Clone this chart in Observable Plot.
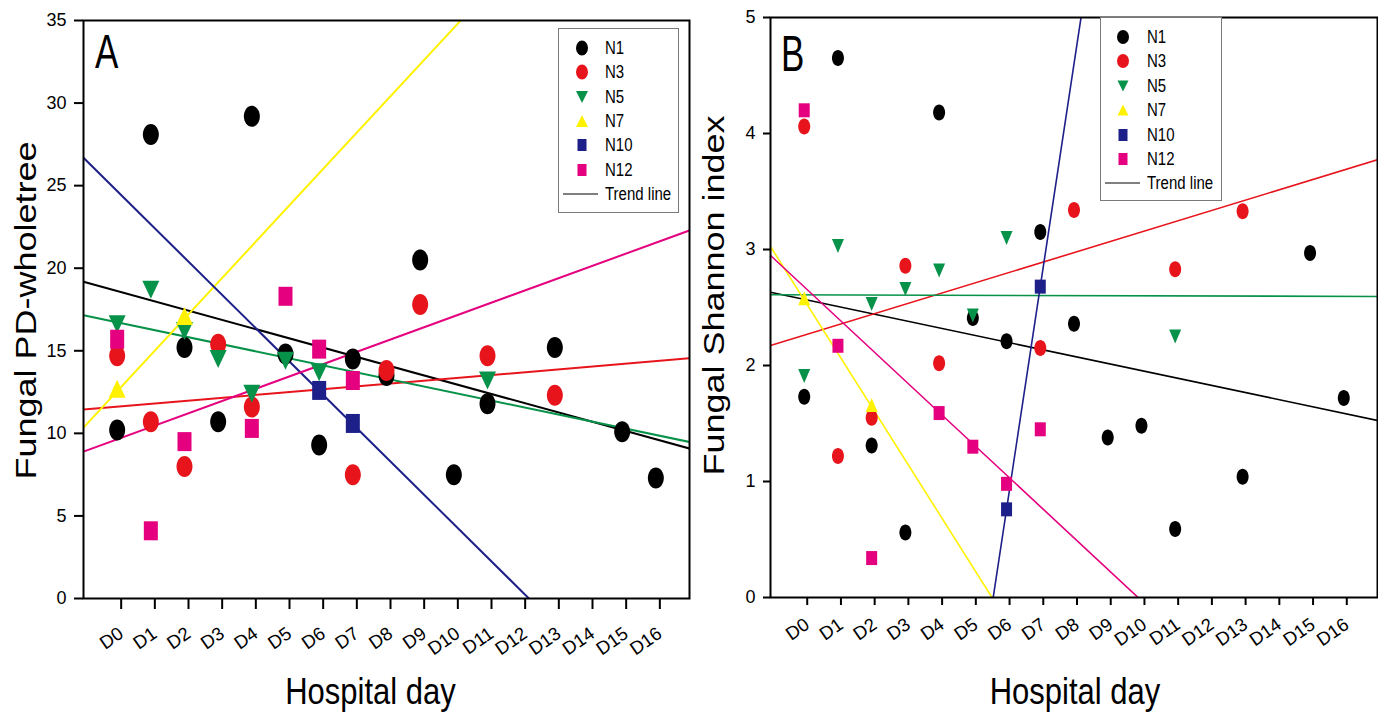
<!DOCTYPE html>
<html>
<head>
<meta charset="utf-8">
<script src="https://cdn.jsdelivr.net/npm/d3@7"></script>
<script src="https://cdn.jsdelivr.net/npm/@observablehq/plot@0.6"></script>
<style>
  html, body { margin: 0; padding: 0; background: #fff; }
  #wrap { position: relative; width: 1378px; height: 715px; overflow: hidden;
          font-family: "Liberation Sans", Arial, sans-serif; color: #000; }
  .pane { position: absolute; top: 0; }
  .legend { position: absolute; border: 1px solid #7a7a7a; background: #fff; box-sizing: border-box; }
  .row { position: absolute; left: 0; width: 100%; height: 24px; }
  .row svg { position: absolute; left: 0; top: 0; }
  .row span { position: absolute; left: 46px; top: 0; line-height: 24px; font-size: 15px;
              transform: scaleY(1.2); transform-origin: left center; white-space: nowrap; }
  .letter { position: absolute; font-size: 35px; line-height: 35px; transform-origin: left top; }
</style>
</head>
<body>
<div id="wrap"></div>
<script>
// ---------- data ----------
const days = ["D0","D1","D2","D3","D4","D5","D6","D7","D8","D9","D10","D11","D12","D13","D14","D15","D16"];
const seriesNames = ["N1", "N3", "N5", "N7", "N10", "N12"];

// Panel A: Fungal PD-wholetree, one value per hospital day D0..D16 (null = no sample)
const pdN1  = [10.2, 28.1, 15.2, 10.7, 29.2, 14.8, 9.3, 14.5, 13.5, 20.5, 7.5, 11.8, null, 15.2, null, 10.1, 7.3];
const pdN3  = [14.7, 10.7, 8.0, 15.4, 11.6, null, null, 7.5, 13.8, 17.8, null, 14.7, null, 12.3, null, null, null];
const pdN5  = [16.6, 18.7, 16.2, 14.5, 12.4, 14.4, 13.7, null, null, null, null, 13.2, null, null, null, null, null];
const pdN7  = [12.7, null, 17.1, null, null, null, null, null, null, null, null, null, null, null, null, null, null];
const pdN10 = [null, null, null, null, null, null, 12.6, 10.6, null, null, null, null, null, null, null, null, null];
const pdN12 = [15.7, 4.1, 9.5, null, 10.3, 18.3, 15.1, 13.2, null, null, null, null, null, null, null, null, null];
// trend lines of panel A: value at D0 and change per day
const pdTrendAtD0  = [18.62, 11.62, 16.72, 12.55, 24.67, 9.64];
const pdTrendSlope = [-0.561, 0.172, -0.426, 2.2, -2.017, 0.744];

// Panel B: Fungal Shannon index
const shN1  = [1.73, 4.65, 1.31, 0.56, 4.18, 2.41, 2.21, 3.15, 2.36, 1.38, 1.48, 0.59, null, 1.04, null, 2.97, 1.72];
const shN3  = [4.06, 1.22, 1.55, 2.86, 2.02, null, null, 2.15, 3.34, null, null, 2.83, null, 3.33, null, null, null];
const shN5  = [1.91, 3.03, 2.53, 2.66, 2.82, 2.43, 3.10, null, null, null, null, 2.25, null, null, null, null, null];
const shN7  = [2.58, null, 1.66, null, null, null, null, null, null, null, null, null, null, null, null, null, null];
const shN10 = [null, null, null, null, null, null, 0.76, 2.68, null, null, null, null, null, null, null, null, null];
const shN12 = [4.20, 2.17, 0.34, null, 1.59, 1.30, 0.98, 1.45, null, null, null, null, null, null, null, null, null];
const shTrendAtD0  = [2.57, 2.261, 2.609, 2.565, -10.76, 2.678];
const shTrendSlope = [-0.0614, 0.089, -0.0008, -0.4606, 1.92, -0.2705];

const pdTicks = [0, 5, 10, 15, 20, 25, 30, 35];
const shTicks = [0, 1, 2, 3, 4, 5];
const xDomain = [-1, 17];

// ---------- styles ----------
const colors = { N1: "#000000", N3: "#e8141c", N5: "#07924a", N7: "#fff200", N10: "#1d2088", N12: "#e4007f" };
const shapes = { N1: "ellipse", N3: "ellipse", N5: "down", N7: "up", N10: "square", N12: "square" };

function symbolOf(kind, sz) {
  return {
    draw(ctx) {
      if (kind === "ellipse") {
        const rx = sz.cw / 2, ry = sz.ch / 2, k = 0.5523;
        ctx.moveTo(rx, 0);
        ctx.bezierCurveTo(rx, k * ry, k * rx, ry, 0, ry);
        ctx.bezierCurveTo(-k * rx, ry, -rx, k * ry, -rx, 0);
        ctx.bezierCurveTo(-rx, -k * ry, -k * rx, -ry, 0, -ry);
        ctx.bezierCurveTo(k * rx, -ry, rx, -k * ry, rx, 0);
        ctx.closePath();
      } else if (kind === "square") {
        const w = sz.sw / 2, h = sz.sh / 2;
        ctx.moveTo(-w, -h); ctx.lineTo(w, -h); ctx.lineTo(w, h); ctx.lineTo(-w, h); ctx.closePath();
      } else {
        const w = sz.tw / 2, h = sz.th / 2, s = kind === "down" ? 1 : -1;
        ctx.moveTo(-w, -s * h); ctx.lineTo(w, -s * h); ctx.lineTo(0, s * h); ctx.closePath();
      }
    }
  };
}

// stretch a title text about its own anchor (the reference figure is stretched vertically)
function stretchText(svg, content, sx, sy) {
  Array.from(svg.querySelectorAll("text")).filter(t => t.textContent === content).forEach(t => {
    const fs = parseFloat(t.getAttribute("font-size")) || 30;
    const parse = v => v == null ? 0 : (String(v).endsWith("em") ? parseFloat(v) * fs : parseFloat(v) || 0);
    const x = parse(t.getAttribute("x")), y = parse(t.getAttribute("y"));
    const tr = t.getAttribute("transform") || "";
    t.removeAttribute("x"); t.removeAttribute("y");
    t.setAttribute("transform", `${tr} translate(${x},${y}) scale(${sx},${sy})`);
  });
}

function makePanel(cfg) {
  const marks = [];
  seriesNames.forEach((name, s) => {
    const pts = xDomain.map(x => ({ day: x, value: cfg.atD0[s] + cfg.slope[s] * x }));
    marks.push(Plot.line(pts, { x: "day", y: "value", stroke: colors[name], strokeWidth: cfg.lineWidth, clip: true }));
  });
  seriesNames.forEach((name, s) => {
    const pts = [];
    cfg.values[s].forEach((v, d) => { if (v != null) pts.push({ day: d, value: v }); });
    marks.push(Plot.dot(pts, { x: "day", y: "value", r: 5, symbol: symbolOf(shapes[name], cfg.sizes),
                                fill: colors[name], stroke: "none" }));
  });
  marks.push(
    Plot.frame({ stroke: "black", strokeWidth: 2 }),
    Plot.axisY({ ticks: cfg.yTicks, tickFormat: d => String(d), tickSize: cfg.yTickSize, tickPadding: cfg.yTickPadding,
                 fontSize: 18, strokeWidth: 2, label: null }),
    Plot.axisX({ ticks: days.map((d, i) => i), tickFormat: i => days[i], tickSize: cfg.xTickSize,
                 tickPadding: cfg.xTickPadding, tickRotate: -35, dx: cfg.xTickDx, fontSize: 18.5,
                 strokeWidth: 2, label: null }),
    Plot.text([cfg.ytitle], { text: d => d, frameAnchor: "left", rotate: -90, dx: cfg.ytitleDx, dy: cfg.ytitleDy,
                              fontSize: 30, textAnchor: "middle", lineAnchor: "bottom" }),
    Plot.text(["Hospital day"], { text: d => d, frameAnchor: "bottom", dx: cfg.xtitleDx, dy: cfg.xtitleDy,
                                  fontSize: 31, textAnchor: "middle", lineAnchor: "bottom" })
  );
  const svg = Plot.plot({
    width: cfg.width, height: 715,
    marginLeft: cfg.ml, marginRight: cfg.mr, marginTop: cfg.mt, marginBottom: 715 - cfg.bottom,
    x: { type: "linear", domain: xDomain, label: null },
    y: { domain: cfg.yDomain, label: null },
    style: { fontFamily: '"Liberation Sans", Arial, sans-serif', background: "transparent", color: "black", overflow: "visible" },
    marks
  });
  stretchText(svg, cfg.ytitle, 1.2, 1);
  stretchText(svg, "Hospital day", 1, 1.2);
  return svg;
}

function legendSymbol(kind, color, sz) {
  const cx = sz.x, cy = 12;
  if (kind === "ellipse") return `<ellipse cx="${cx}" cy="${cy}" rx="${sz.cw/2}" ry="${sz.ch/2}" fill="${color}"/>`;
  if (kind === "square") return `<rect x="${cx - sz.sw/2}" y="${cy - sz.sh/2}" width="${sz.sw}" height="${sz.sh}" fill="${color}"/>`;
  const w = sz.tw / 2, h = sz.th / 2, s = kind === "down" ? 1 : -1;
  return `<path d="M${cx - w},${cy - s*h}L${cx + w},${cy - s*h}L${cx},${cy + s*h}Z" fill="${color}"/>`;
}

function makeLegend(left, top, width, height, rowTop0, rowStep, sz) {
  const box = document.createElement("div");
  box.className = "legend";
  Object.assign(box.style, { left: left + "px", top: top + "px", width: width + "px", height: height + "px" });
  const entries = seriesNames.map(n => ({ label: n, sym: legendSymbol(shapes[n], colors[n], sz) }));
  entries.push({ label: "Trend line", sym: `<line x1="4" x2="39" y1="12" y2="12" stroke="black" stroke-width="1"/>` });
  entries.forEach((e, i) => {
    const row = document.createElement("div");
    row.className = "row";
    row.style.top = (rowTop0 + i * rowStep) + "px";
    row.innerHTML = `<svg width="44" height="24">${e.sym}</svg><span>${e.label}</span>`;
    box.appendChild(row);
  });
  return box;
}

const wrap = document.getElementById("wrap");

const paneA = document.createElement("div");
paneA.className = "pane"; paneA.style.left = "0px";
paneA.appendChild(makePanel({
  values: [pdN1, pdN3, pdN5, pdN7, pdN10, pdN12], atD0: pdTrendAtD0, slope: pdTrendSlope,
  yDomain: [0, 35], yTicks: pdTicks, width: 690, ml: 83, mr: 1, mt: 20, bottom: 598,
  sizes: { cw: 16, ch: 21, tw: 17, th: 18, sw: 14, sh: 19 }, lineWidth: 2,
  yTickSize: 9, yTickPadding: 8, xTickSize: 11, xTickPadding: 22, xTickDx: 4,
  ytitle: "Fungal PD-wholetree", ytitleDx: -48, ytitleDy: 1, xtitleDx: -16, xtitleDy: 105
}));
wrap.appendChild(paneA);

const paneB = document.createElement("div");
paneB.className = "pane"; paneB.style.left = "690px";
paneB.appendChild(makePanel({
  values: [shN1, shN3, shN5, shN7, shN10, shN12], atD0: shTrendAtD0, slope: shTrendSlope,
  yDomain: [0, 5], yTicks: shTicks, width: 688, ml: 80, mr: 1, mt: 17, bottom: 597,
  sizes: { cw: 12, ch: 16, tw: 12, th: 14, sw: 11, sh: 14 }, lineWidth: 1.6,
  yTickSize: 7, yTickPadding: 8, xTickSize: 8, xTickPadding: 17, xTickDx: 3,
  ytitle: "Fungal Shannon index", ytitleDx: -47, ytitleDy: -12, xtitleDx: 1, xtitleDy: 106
}));
wrap.appendChild(paneB);

wrap.appendChild(makeLegend(558, 28, 121, 185, 7, 24.3, { x: 23, cw: 12, ch: 15, tw: 12, th: 12, sw: 9, sh: 12 }));
wrap.appendChild(makeLegend(1100, 17, 122, 184, 7, 24.4, { x: 22, cw: 12, ch: 14, tw: 11, th: 11, sw: 9, sh: 12 }));

const letterA = document.createElement("div");
letterA.className = "letter"; letterA.textContent = "A";
Object.assign(letterA.style, { left: "95px", top: "27px", transform: "scaleY(1.38)" });
wrap.appendChild(letterA);
const letterB = document.createElement("div");
letterB.className = "letter"; letterB.textContent = "B";
Object.assign(letterB.style, { left: "781px", top: "27px", transform: "scaleY(1.45)" });
wrap.appendChild(letterB);
</script>
</body>
</html>
